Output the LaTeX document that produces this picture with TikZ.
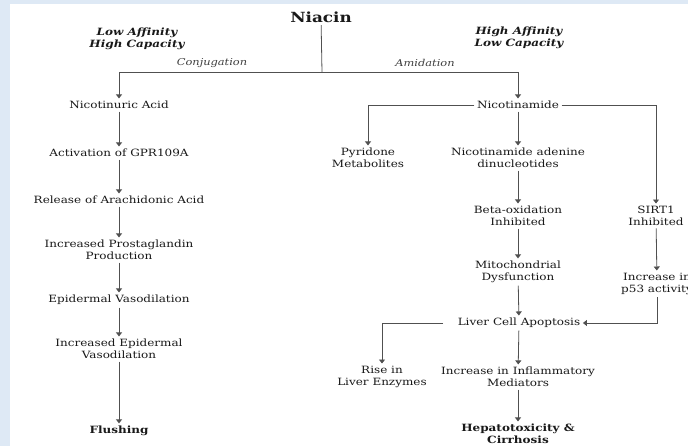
\documentclass[tikz,border=0pt]{standalone}
\usepackage{fontspec}
\setmainfont{DejaVu Serif}[FakeStretch=1.2]
\usepackage{tikz}
\usetikzlibrary{positioning, arrows.meta, calc}
\definecolor{framebg}{RGB}{222,233,245}
\definecolor{linegray}{RGB}{80,80,80}

\begin{document}
\begin{tikzpicture}[x=1pt, y=-1pt,
    every node/.style={font=\fontsize{10}{12}\selectfont, align=center, inner sep=2.5pt, text=black!90},
    title/.style={font=\fontsize{10}{11.5}\selectfont\bfseries\itshape},
    route/.style={font=\fontsize{9.5}{11}\selectfont\itshape, text=black!75},
    final/.style={font=\fontsize{10}{12}\selectfont\bfseries},
    link/.style={draw=linegray, line width=0.8pt},
    arr/.style={link, -{Triangle[length=4pt, width=6pt]}}]
      \useasboundingbox (0,0) rectangle (688,446);
      \clip (0,0) rectangle (688,446);
      % Frame
      \fill[framebg] (0,0) rectangle (688,446);
      \fill[white] (10,4) rectangle (688,446);

      % Header
      \node[font=\fontsize{14}{15}\selectfont\bfseries] (niacin) at (321,17) {Niacin};
      \node[title] (lowaff) at (137,39) {Low Affinity\\High Capacity};
      \node[title] (highaff) at (519,38) {High Affinity\\Low Capacity};
      \node[route] (conj) at (212,63) {Conjugation};
      \node[route] (amid) at (425,63) {Amidation};
      \coordinate (fork) at (322,72);

      % Left branch
      \node (nur) at (119,105) {Nicotinuric Acid};
      \node (gpr) at (119,153) {Activation of GPR109A};
      \node (ara) at (119,200) {Release of Arachidonic Acid};
      \node (pgp) at (119,250) {Increased Prostaglandin\\Production};
      \node (epv) at (119,300) {Epidermal Vasodilation};
      \node (iev) at (119,349) {Increased Epidermal\\Vasodilation};
      \node[final] (flu) at (119,431) {Flushing};

      % Right branch
      \node (nam) at (518,105) {Nicotinamide};
      \node (pyr) at (368,158) {Pyridone\\Metabolites};
      \node (nad) at (518,158) {Nicotinamide adenine\\dinucleotides};
      \node (beta) at (518,216) {Beta-oxidation\\Inhibited};
      \node (sirt) at (656,216) {SIRT1\\Inhibited};
      \node (mito) at (518,272) {Mitochondrial\\Dysfunction};
      \node (p53) at (657,284) {Increase in\\p53 activity};
      \node (lca) at (519,323) {Liver Cell Apoptosis};
      \node (rise) at (382,377) {Rise in\\Liver Enzymes};
      \node (infl) at (518,377) {Increase in Inflammatory\\Mediators};
      \node[final] (hep) at (518,434) {Hepatotoxicity \&\\Cirrhosis};

      % Connectors
      \draw[link] (niacin) -- (fork);
      \draw[arr] (fork) -| (nur);
      \draw[arr] (fork) -| (nam);
      \foreach \a/\b in {nur/gpr, gpr/ara, ara/pgp, pgp/epv, epv/iev, iev/flu,
                         nam/nad, nad/beta, beta/mito, mito/lca, lca/infl, infl/hep, sirt/p53}
        \draw[arr] (\a) -- (\b);
      \draw[arr] (nam) -| (pyr);
      \draw[arr] (nam) -| (sirt);
      \draw[arr] (p53) |- (lca);
      \draw[arr] ([xshift=-12pt]lca.west) -| (rise);
    \end{tikzpicture}
\end{document}
